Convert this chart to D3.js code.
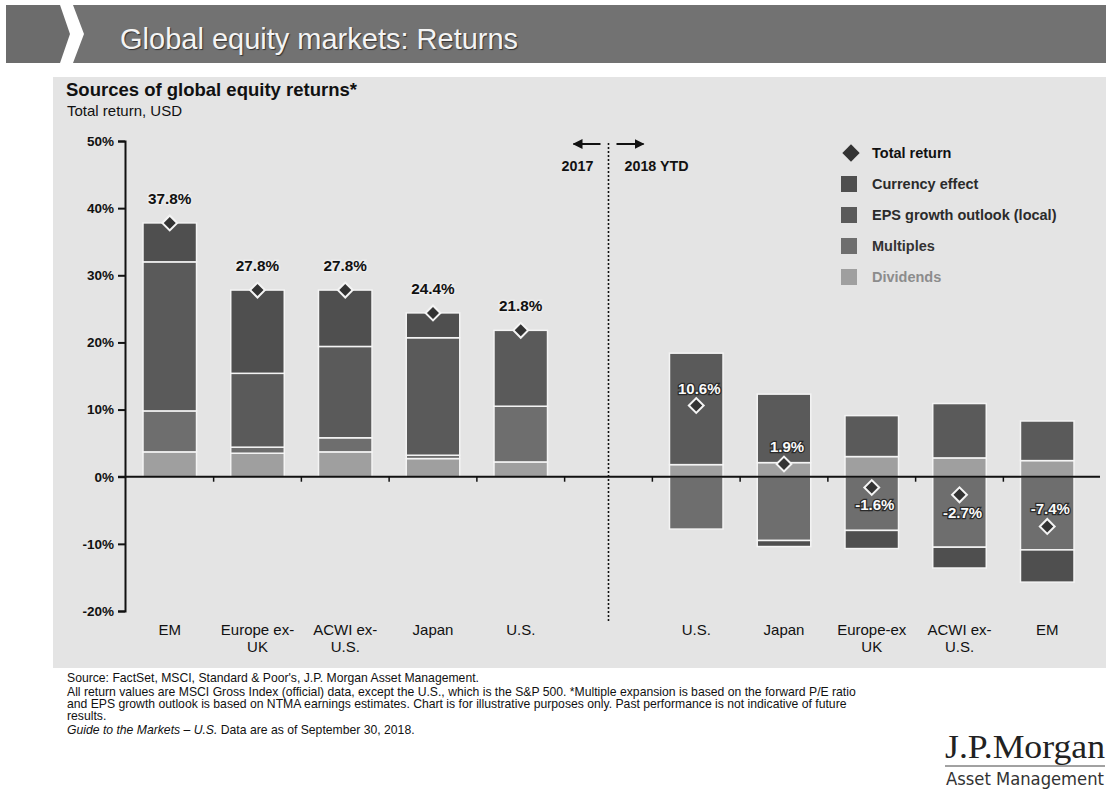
<!DOCTYPE html>
<html>
<head>
<meta charset="utf-8">
<script src="https://cdn.jsdelivr.net/npm/d3@7"></script>
<style>
  html, body { margin: 0; padding: 0; background: #fff; }
  svg { display: block; font-family: "Liberation Sans", Arial, sans-serif; }
</style>
</head>
<body>
<div id="container"></div>
<script>
// data
const categories2017 = ["EM", "Europe ex-\nUK", "ACWI ex-\nU.S.", "Japan", "U.S."];
const categories2018 = ["U.S.", "Japan", "Europe-ex\nUK", "ACWI ex-\nU.S.", "EM"];

const total2017 = [37.8, 27.8, 27.8, 24.4, 21.8];
const dividends2017 = [3.7, 3.5, 3.7, 2.7, 2.2];
const multiples2017 = [6.1, 0.9, 2.1, 0.5, 8.3];
const eps2017 = [22.2, 11.0, 13.6, 17.5, 11.3];
const currency2017 = [5.8, 12.4, 8.4, 3.7, 0];

const total2018 = [10.6, 1.9, -1.6, -2.7, -7.4];
const dividends2018 = [1.8, 2.1, 3.0, 2.8, 2.4];
const multiples2018 = [-7.8, -9.5, -8.0, -10.5, -10.9];
const eps2018 = [16.6, 10.2, 6.1, 8.1, 5.9];
const currency2018 = [0, -0.9, -2.7, -3.1, -4.8];

const yTicks = [-20, -10, 0, 10, 20, 30, 40, 50];
const seriesKeys = ["dividends", "multiples", "eps", "currency"];
const legendNames = ["Total return", "Currency effect", "EPS growth outlook (local)", "Multiples", "Dividends"];

const W = 1106, H = 795;
const colors = {
  currency: "#4f4f4f",
  eps: "#5a5a5a",
  multiples: "#6e6e6e",
  dividends: "#9f9f9f"
};

const setAttrs = (el, attrs) =>
  Object.entries(attrs).reduce((acc, [k, v]) => acc.attr(k, v), el);

const makeRows = (cats, year, tot, div, mul, eps, cur) =>
  cats.map((c, i) => ({
    key: `${c} ${year}`,
    label: c,
    year,
    total: tot[i],
    dividends: div[i],
    multiples: mul[i],
    eps: eps[i],
    currency: cur[i]
  }));

const rows2017 = makeRows(categories2017, 2017, total2017, dividends2017, multiples2017, eps2017, currency2017);
const rows2018 = makeRows(categories2018, 2018, total2018, dividends2018, multiples2018, eps2018, currency2018);
const rows = [...rows2017, ...rows2018];
const domain = [...rows2017.map((d) => d.key), "gap", ...rows2018.map((d) => d.key)];

const svg = d3.select("#container").append("svg");
setAttrs(svg, { width: W, height: H, viewBox: `0 0 ${W} ${H}` });

// header banner
svg.append("path")
  .attr("d", "M6,5L60,5L70,34L60,63L6,63Z")
  .attr("fill", "#6c6c6c");
svg.append("path")
  .attr("d", `M73,5L${W},5L${W},63L73,63L84,34Z`)
  .attr("fill", "#727272");
svg.append("text")
  .attr("x", 120).attr("y", 49)
  .attr("font-size", 29)
  .attr("fill", "#f4f4f4")
  .style("text-shadow", "1px 1px 1px #333")
  .text("Global equity markets: Returns");

// chart panel
svg.append("rect")
  .attr("x", 53).attr("y", 77)
  .attr("width", W - 53).attr("height", 591)
  .attr("fill", "#e4e4e4");

svg.append("text")
  .attr("x", 66).attr("y", 96)
  .attr("font-size", 18.5).attr("font-weight", "bold")
  .attr("fill", "#111")
  .text("Sources of global equity returns*");
svg.append("text")
  .attr("x", 67).attr("y", 116)
  .attr("font-size", 15).attr("fill", "#111")
  .text("Total return, USD");

// scales
const x = d3.scaleBand()
  .domain(domain)
  .range([125, 1092])
  .paddingInner(0.39)
  .paddingOuter(0.205);
const y = d3.scaleLinear().domain([-20, 50]).range([611, 141]);

// bars
const stacked = d3.stack()
  .keys(seriesKeys)
  .offset(d3.stackOffsetDiverging)(rows);

const barG = svg.append("g");
stacked.forEach((series) => {
  barG.append("g")
    .selectAll("rect")
    .data(series.filter((d) => d[1] !== d[0]))
    .join("rect")
    .attr("x", (d) => x(d.data.key))
    .attr("width", x.bandwidth())
    .attr("y", (d) => y(Math.max(d[0], d[1])))
    .attr("height", (d) => Math.abs(y(d[0]) - y(d[1])))
    .attr("fill", colors[series.key])
    .attr("stroke", "#f4f4f4")
    .attr("stroke-width", 1.5);
});

// y axis
const yAxis = svg.append("g")
  .attr("transform", "translate(125,0)")
  .call(d3.axisLeft(y).tickValues(yTicks).tickFormat((d) => `${d}%`).tickSize(7).tickSizeOuter(7));
yAxis.select(".domain").attr("stroke", "#111").attr("stroke-width", 2);
yAxis.selectAll(".tick line").attr("stroke", "#111").attr("stroke-width", 2);
yAxis.selectAll(".tick text")
  .attr("font-size", 13.5).attr("font-weight", "bold")
  .attr("font-family", "Liberation Sans, Arial, sans-serif")
  .attr("fill", "#111").attr("x", -11);

// zero line with ticks between categories
const y0 = y(0);
svg.append("line")
  .attr("x1", 118).attr("x2", 1100)
  .attr("y1", y0).attr("y2", y0)
  .attr("stroke", "#111").attr("stroke-width", 2);
const gapHalf = (x.step() * x.paddingInner()) / 2;
svg.append("g")
  .selectAll("line")
  .data(domain.slice(1))
  .join("line")
  .attr("x1", (d) => x(d) - gapHalf)
  .attr("x2", (d) => x(d) - gapHalf)
  .attr("y1", y0).attr("y2", y0 + 5)
  .attr("stroke", "#111").attr("stroke-width", 1.5);

// divider between years
const xDiv = x("gap") + x.bandwidth() / 2;
svg.append("line")
  .attr("x1", xDiv).attr("x2", xDiv)
  .attr("y1", 143).attr("y2", 621)
  .attr("stroke", "#111").attr("stroke-width", 1.6)
  .attr("stroke-dasharray", "2,2");

const defs = svg.append("defs");
const marker = defs.append("marker");
setAttrs(marker, {
  id: "arrow", viewBox: "0 0 10 10", refX: 9, refY: 5,
  markerWidth: 5, markerHeight: 5, orient: "auto-start-reverse"
});
marker.append("path").attr("d", "M0,0L10,5L0,10Z").attr("fill", "#111");

svg.append("line")
  .attr("x1", xDiv - 8).attr("x2", xDiv - 35)
  .attr("y1", 144).attr("y2", 144)
  .attr("stroke", "#111").attr("stroke-width", 2)
  .attr("marker-end", "url(#arrow)");
svg.append("line")
  .attr("x1", xDiv + 8).attr("x2", xDiv + 35)
  .attr("y1", 144).attr("y2", 144)
  .attr("stroke", "#111").attr("stroke-width", 2)
  .attr("marker-end", "url(#arrow)");
svg.append("text")
  .attr("x", xDiv - 31).attr("y", 171)
  .attr("text-anchor", "middle")
  .attr("font-size", 14.3).attr("font-weight", "bold").attr("fill", "#111")
  .text("2017");
svg.append("text")
  .attr("x", xDiv + 16).attr("y", 171)
  .attr("font-size", 14.3).attr("font-weight", "bold").attr("fill", "#111")
  .text("2018 YTD");

// total return diamonds
const cx = (d) => x(d.key) + x.bandwidth() / 2;
svg.append("g")
  .selectAll("path")
  .data(rows)
  .join("path")
  .attr("d", d3.symbol(d3.symbolSquare, 110))
  .attr("transform", (d) => `translate(${cx(d)},${y(d.total)}) rotate(45)`)
  .attr("fill", "#333")
  .attr("stroke", "#f4f4f4")
  .attr("stroke-width", 2);

// total return labels
const labelsBelow = new Set(["Europe-ex\nUK 2018", "ACWI ex-\nU.S. 2018"]);
svg.append("g")
  .selectAll("text")
  .data(rows2017)
  .join("text")
  .attr("x", cx)
  .attr("y", (d) => y(d.total) - 19)
  .attr("text-anchor", "middle")
  .attr("font-size", 15.3).attr("font-weight", "bold")
  .attr("fill", "#111")
  .attr("stroke", "#ececec").attr("stroke-width", 3)
  .attr("paint-order", "stroke")
  .text((d) => `${d.total.toFixed(1)}%`);
svg.append("g")
  .selectAll("text")
  .data(rows2018)
  .join("text")
  .attr("x", (d) => cx(d) + 3)
  .attr("y", (d) => (labelsBelow.has(d.key) ? y(d.total) + 23 : y(d.total) - 12))
  .attr("text-anchor", "middle")
  .attr("font-size", 15).attr("font-weight", "bold")
  .attr("fill", "#fafafa")
  .attr("stroke", "#2a2a2a").attr("stroke-width", 2.5)
  .attr("paint-order", "stroke")
  .text((d) => `${d.total.toFixed(1)}%`);

// category labels
const catText = svg.append("g")
  .selectAll("text")
  .data(rows)
  .join("text")
  .attr("x", cx)
  .attr("y", 635)
  .attr("text-anchor", "middle")
  .attr("font-size", 15)
  .attr("fill", "#111");
catText.selectAll("tspan")
  .data((d) => d.label.split("\n"))
  .join("tspan")
  .attr("x", function () { return d3.select(this.parentNode).attr("x"); })
  .attr("dy", (d, i) => (i === 0 ? 0 : 17))
  .text((d) => d);

// legend
const legend = svg.append("g").attr("transform", "translate(849,153)");
const legendColors = [null, colors.currency, colors.eps, colors.multiples, colors.dividends];
const legendText = ["#111", "#2b2b2b", "#2b2b2b", "#333", "#8c8c8c"];
legendNames.forEach((name, i) => {
  const row = legend.append("g").attr("transform", `translate(0,${i * 31})`);
  if (i === 0) {
    row.append("path")
      .attr("d", d3.symbol(d3.symbolSquare, 150))
      .attr("transform", "translate(2,0) rotate(45)")
      .attr("fill", "#333");
  } else {
    row.append("rect")
      .attr("x", -8).attr("y", -8)
      .attr("width", 16).attr("height", 16)
      .attr("fill", legendColors[i]);
  }
  row.append("text")
    .attr("x", 23).attr("y", 5)
    .attr("font-size", 14.5).attr("font-weight", "bold")
    .attr("fill", legendText[i])
    .text(name);
});

// footnotes
const notes = [
  "Source: FactSet, MSCI, Standard & Poor's, J.P. Morgan Asset Management.",
  "All return values are MSCI Gross Index (official) data, except the U.S., which is the S&P 500. *Multiple expansion is based on the forward P/E ratio",
  "and EPS growth outlook is based on NTMA earnings estimates. Chart is for illustrative purposes only. Past performance is not indicative of future",
  "results."
];
const noteY = [682, 696, 708, 720];
svg.append("g")
  .selectAll("text")
  .data(notes)
  .join("text")
  .attr("x", 67)
  .attr("y", (d, i) => noteY[i])
  .attr("font-size", 12.2).attr("fill", "#111")
  .text((d) => d);
const guide = svg.append("text")
  .attr("x", 67).attr("y", 734)
  .attr("font-size", 12.2).attr("fill", "#111");
guide.append("tspan").attr("font-style", "italic").text("Guide to the Markets \u2013 U.S.");
guide.append("tspan").text(" Data are as of September 30, 2018.");

// logo
svg.append("text")
  .attr("x", 1105).attr("y", 758)
  .attr("text-anchor", "end")
  .attr("font-family", "Liberation Serif, DejaVu Serif, serif")
  .attr("font-size", 33).attr("fill", "#222")
  .attr("textLength", 160).attr("lengthAdjust", "spacingAndGlyphs")
  .text("J.P.Morgan");
svg.append("line")
  .attr("x1", 945).attr("x2", 1105)
  .attr("y1", 766).attr("y2", 766)
  .attr("stroke", "#444").attr("stroke-width", 1);
svg.append("text")
  .attr("x", 1104).attr("y", 785)
  .attr("text-anchor", "end")
  .attr("font-family", "DejaVu Sans Condensed, Liberation Sans Narrow, sans-serif")
  .attr("font-size", 17.5).attr("fill", "#333")
  .attr("textLength", 158).attr("lengthAdjust", "spacingAndGlyphs")
  .text("Asset Management");
</script>
</body>
</html>
